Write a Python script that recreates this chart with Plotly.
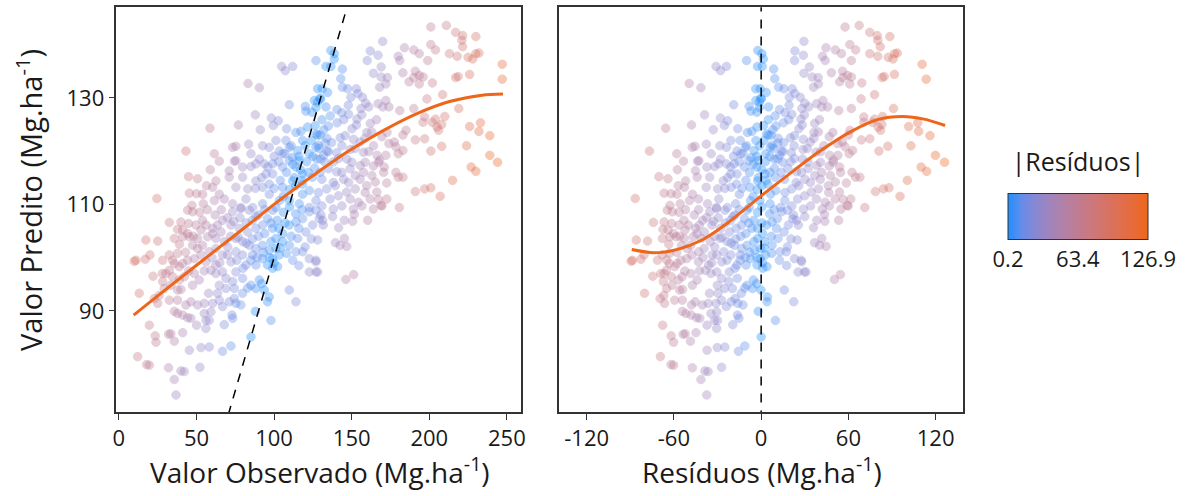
import numpy as np
import plotly.graph_objects as go

obs_1 = [127.0, 104.9, 107.2, 112.0, 83.2, 90.5, 109.8, 120.1, 124.4, 120.5,
         87.9, 98.2, 102.7, 99.5, 58.7, 77.0, 91.1, 108.1, 114.1, 117.3,
         43.2, 61.5, 64.7, 75.4, 83.6, 92.6, 96.9, 103.4, 109.8, 115.2,
         127.0, 122.7, 74.4, 79.7, 85.1, 90.5, 93.7, 44.9, 50.7, 58.9,
         24.5, 45.4, 54.0, 56.5, 60.4, 62.5, 64.7, 47.1, 54.4, 61.5,
         71.1, 75.4, 79.7, 81.9, 99.1, 105.5, 109.8, 114.1, 118.4, 124.8,
         88.3, 92.6, 96.9, 105.5, 109.8, 118.4, 127.0, 86.2, 73.3, 101.2,
         112.0, 101.2, 107.6, 118.4, 127.0, 121.6, 127.0, 128.0, 125.9, 71.1,
         67.9, 75.4, 85.1, 88.3, 94.8, 99.1, 105.5, 111.9, 116.2, 96.9,
         103.4, 92.6, 78.6, 83.0, 118.4, 122.7, 122.7, 116.2, 73.3]
pred_1 = [137.0, 135.9, 135.1, 135.9, 132.7, 131.9, 128.7, 128.4, 127.3, 127.5,
          126.8, 126.2, 125.7, 124.8, 124.3, 124.9, 124.0, 124.2, 123.5, 123.7,
          120.0, 119.5, 118.1, 120.9, 121.3, 121.0, 120.7, 120.0, 120.7, 120.1,
          120.7, 119.5, 118.1, 117.0, 117.1, 118.5, 117.6, 115.2, 114.8, 116.5,
          111.1, 112.1, 111.9, 113.5, 113.2, 114.4, 111.9, 109.8, 110.1, 110.7,
          115.1, 113.2, 115.1, 111.0, 115.7, 117.0, 118.2, 117.0, 115.7, 115.1,
          114.4, 113.2, 111.9, 113.2, 110.7, 111.9, 110.7, 109.4, 110.1, 109.4,
          114.4, 122.0, 122.0, 122.0, 123.2, 124.5, 128.2, 131.7, 129.5, 116.3,
          111.0, 118.2, 119.5, 117.6, 115.7, 117.6, 119.5, 118.8, 118.2, 113.8,
          110.7, 110.1, 109.4, 112.9, 113.8, 112.6, 109.4, 110.1, 120.7]

obs_2 = [32.5, 37.8, 35.7, 41.1, 44.3, 45.4, 17.4, 25.0, 9.9, 11.0,
         17.0, 13.1, 19.6, 23.4, 23.9, 12.1, 17.9, 19.6, 32.0, 33.5,
         35.7, 41.1, 45.4, 52.9, 58.2, 32.0, 40.0, 42.1, 35.7, 52.2,
         36.8, 66.8, 72.2, 67.9, 73.3, 72.9, 50.1, 56.1, 44.3, 46.4,
         41.1, 35.7, 37.8, 32.5, 37.8, 43.2, 46.4, 55.0, 59.3, 58.2,
         56.1, 50.7, 55.0, 57.8, 63.6, 60.4, 66.8, 64.7, 71.1, 75.4,
         78.6, 85.1, 87.9, 98.0, 88.3, 93.7, 95.8, 96.9, 90.5, 92.0,
         83.0, 85.1, 79.7, 74.4, 69.0, 74.4, 109.8, 114.1, 28.2, 29.2,
         26.0, 22.8, 25.0, 33.5, 37.8, 38.9, 34.6, 30.3, 32.5, 42.1,
         48.6, 51.8, 47.5, 35.7, 34.6, 37.8, 41.1, 44.3, 38.9, 28.2,
         32.5, 48.6, 50.7, 52.9, 56.1, 59.3, 62.5, 62.5, 66.8, 47.5,
         50.7, 53.9, 58.2, 62.5, 66.8, 70.1, 72.2, 56.1, 60.4, 63.6,
         65.8, 66.8, 57.2, 62.5, 60.4, 44.3, 47.5, 53.9, 52.9, 41.1,
         44.9, 49.7, 40.0, 73.3, 78.6, 84.0, 88.3, 72.2, 77.6, 83.0,
         88.3, 92.6, 95.8, 99.1, 75.4, 79.7, 84.0, 88.3, 92.6, 86.2,
         79.7, 75.4, 81.9, 88.3, 92.6, 95.8, 99.1, 75.4, 79.7, 73.3,
         69.0, 64.7, 99.1, 101.2, 105.5, 109.8, 114.1, 118.4, 122.7, 127.0,
         129.1, 124.8, 120.5, 115.2, 109.8, 114.1, 118.4, 122.7, 127.0, 101.2,
         99.1, 103.4, 96.9, 105.5, 102.3, 122.7, 127.0]
pred_2 = [106.6, 105.3, 103.6, 103.9, 104.5, 103.9, 103.3, 103.1, 99.3, 99.5,
          99.7, 93.3, 87.3, 85.3, 84.1, 81.4, 79.9, 79.8, 85.6, 85.7,
          84.3, 85.9, 82.6, 83.1, 83.2, 79.3, 78.7, 78.6, 77.1, 79.4,
          74.2, 82.4, 83.4, 87.4, 88.6, 89.2, 87.3, 88.2, 88.7, 88.6,
          89.2, 89.9, 89.5, 92.0, 92.0, 91.1, 91.7, 89.5, 89.8, 88.2,
          86.7, 91.1, 91.4, 93.3, 93.3, 91.4, 90.8, 92.0, 91.7, 91.4,
          91.1, 85.1, 89.9, 88.2, 94.2, 93.9, 91.7, 92.6, 95.8, 95.1,
          94.3, 94.8, 93.3, 92.3, 94.2, 94.2, 93.9, 91.7, 95.5, 94.2,
          92.9, 92.3, 91.4, 94.8, 93.9, 95.8, 96.4, 97.0, 97.6, 96.4,
          97.0, 95.8, 94.8, 98.9, 99.5, 100.8, 98.9, 99.5, 98.3, 99.5,
          100.5, 99.8, 101.7, 100.5, 99.2, 97.6, 98.6, 97.0, 97.3, 102.3,
          103.6, 102.3, 101.1, 101.7, 100.5, 102.0, 99.2, 106.1, 105.5, 106.1,
          104.8, 107.0, 103.9, 103.6, 104.5, 108.9, 108.6, 107.0, 105.2, 105.2,
          106.4, 106.1, 106.7, 108.6, 109.2, 108.9, 107.7, 106.1, 105.5, 104.8,
          105.5, 106.1, 107.3, 108.9, 103.6, 103.0, 102.3, 101.7, 102.3, 100.5,
          100.5, 101.1, 98.6, 98.6, 99.8, 98.6, 98.0, 97.3, 96.1, 95.5,
          96.1, 94.8, 105.5, 103.6, 104.5, 106.1, 106.7, 107.3, 108.6, 108.9,
          107.3, 106.1, 104.8, 103.6, 102.3, 101.1, 101.1, 99.8, 99.2, 101.7,
          99.8, 100.5, 101.4, 103.0, 98.3, 97.3, 97.3]

obs_3 = [201, 211, 217, 221.5, 221, 221.5, 230, 170, 184, 190,
         193.5, 201, 204, 213, 218, 225, 228, 230, 232, 162,
         167, 160, 180, 181, 199, 247, 247, 217, 218.6, 226,
         191, 193.5, 196, 190, 187, 183, 202, 208.6, 198.5, 193.5,
         164, 169, 173, 168, 172, 169, 153, 154, 149.5, 147.4,
         144, 144, 143, 136.6, 138.8, 138.8, 133.4, 136.6, 131, 134.5,
         130, 128, 133.4, 157, 159, 156, 161, 167, 172, 170,
         174, 181, 190, 197, 196, 204, 208, 206, 210, 202,
         205, 219, 226, 233, 232, 239, 244, 239, 227, 230,
         224, 215, 201, 208, 191, 197, 185, 183, 178.5, 177.5,
         174, 183, 180, 172, 168, 171, 178.5, 183, 180, 191,
         197, 201, 207]
pred_3 = [143.3, 143.6, 142.3, 141.7, 140.8, 139.6, 141.5, 140.6, 139.4, 139,
          138.3, 140, 139, 138.3, 137.8, 137.6, 137.3, 138.3, 138.4, 138.8,
          138, 137, 137.8, 137, 137, 136.3, 133.5, 133.8, 134, 134.4,
          135, 134.2, 133.9, 133.8, 133, 134.7, 132.8, 130.6, 129.8, 132.6,
          134.6, 133.9, 133.8, 132, 132.6, 135.8, 131.7, 130.8, 130.1, 131.7,
          132, 135.4, 133.6, 138.9, 138.3, 137.3, 135.9, 135.9, 131.7, 131,
          129.8, 129.2, 128.3, 130.1, 129, 128, 128.3, 128.9, 129.5, 128.3,
          128.3, 127.6, 128, 126.4, 125.4, 126, 125, 123.9, 126.5, 125.4,
          124.5, 128, 124.6, 125.3, 123.7, 122.9, 117.9, 119.2, 117, 116.2,
          121, 114.5, 120, 120.9, 122.1, 122.3, 123.9, 123, 120.8, 121.7,
          121.4, 120.1, 119.5, 119.2, 118.3, 117, 116, 115.1, 115.1, 112.4,
          112.9, 113.1, 111.5]

obs_4 = [129.5, 147.8, 140.5, 143.6, 136.2, 130.8, 126.4, 129.8, 134.9, 140.6,
         144.9, 148.0, 153.4, 156.5, 162.0, 166.0, 150.2, 153.1, 159.8, 162.9,
         128.6, 134.0, 137.1, 142.6, 145.8, 151.2, 155.5, 158.6, 164.1, 169.5,
         172.8, 131.9, 135.0, 140.4, 143.7, 149.1, 152.2, 157.6, 160.9, 166.3,
         127.6, 132.8, 138.3, 141.5, 146.9, 150.1, 155.5, 158.7, 164.0, 167.3,
         129.7, 135.1, 140.4, 143.7, 149.0, 152.3, 157.6, 163.0, 170.6, 130.8,
         138.2, 144.8, 148.0, 155.4, 159.7, 165.2, 172.6, 133.9, 139.4, 146.8,
         152.3, 158.7, 166.2, 128.6, 136.1, 141.5, 149.0, 154.4, 161.9, 167.3,
         172.6, 130.8, 138.2, 143.7, 151.1, 156.6, 164.0, 169.5, 180.7]
pred_4 = [129.9, 128.6, 127.8, 127.2, 126.6, 125.9, 124.8, 123.0, 124.7, 125.3,
          125.9, 126.9, 126.0, 126.8, 125.2, 125.9, 124.2, 124.9, 123.5, 123.6,
          121.1, 122.4, 121.6, 122.5, 122.9, 122.2, 121.7, 122.4, 121.0, 122.7,
          123.5, 119.2, 119.9, 119.7, 121.0, 120.3, 120.5, 119.8, 119.9, 119.2,
          118.5, 117.9, 118.0, 118.6, 118.5, 117.9, 117.3, 117.9, 117.2, 117.9,
          116.0, 116.7, 116.1, 116.0, 116.7, 115.4, 116.0, 115.4, 116.0, 114.7,
          114.1, 114.7, 114.1, 114.7, 113.5, 114.2, 114.0, 112.9, 113.5, 112.3,
          112.9, 112.2, 112.3, 112.2, 111.0, 111.6, 111.0, 110.4, 111.0, 110.9,
          111.0, 109.7, 109.1, 109.7, 109.1, 109.7, 109.1, 109.7, 109.4]

obs_5 = [168.9, 130.2, 131.3, 131.7, 137.7, 145.3, 150.6, 151.7, 160.3, 141.6,
         128.1, 145.3, 139.5, 142.5, 146.8, 127.0, 128.1, 146.3, 151.3,
         62, 66, 70, 74, 78, 82, 86, 90, 94, 98, 102, 106, 110, 114, 118,
         68, 72, 77, 82, 86, 90, 94, 98, 103, 107, 111, 116,
         60, 65, 70, 76, 80, 85, 89, 93, 97, 100, 104, 108, 112, 116, 120, 124,
         100, 104, 108, 112, 116, 120, 124, 128, 132, 113, 117, 121, 125, 129, 133,
         106, 110, 114, 118, 122, 126, 130, 134, 103, 107, 111, 96, 100, 92, 88,
         50, 52, 57, 48, 43, 39, 55, 45, 40, 28, 20, 22]
pred_5 = [109.8, 108.0, 107.0, 106.1, 107.7, 107.0, 106.8, 108.1, 107.0, 105.6,
          103.3, 103.6, 102.8, 102.3, 102.1, 99.5, 97.3, 95.9, 96.8,
          108, 109, 107.5, 106.8, 107.5, 106.5, 107, 108, 109, 106.5, 107, 108.5, 109.5, 108.2, 109,
          103, 104, 103.8, 102.7, 103.5, 104, 104.5, 103, 105.5, 106.5, 104, 105.5,
          100, 99, 100.5, 99.5, 98, 99.5, 100, 101, 100, 99, 101.8, 100.8, 99.5, 98.5, 102, 103.5,
          113, 114.5, 116, 117.5, 119, 121, 122, 123, 124, 115, 116.5, 118, 119, 120.5, 121.5,
          111.5, 112.8, 113.5, 114.5, 116, 116.8, 118.5, 120, 118, 119.5, 121, 117, 119, 115, 113,
          112, 108.5, 109, 104, 101, 102.5, 97.5, 97.5, 94, 97, 100.5, 96.5]

# loess curves
curva_obs = [9.5, 25, 41, 62, 84, 100, 116, 127, 148, 170, 191, 213, 234, 247.5]
curva_obs_pred = [89.2, 92.8, 96.5, 101.3, 106.3, 110.0, 113.5, 115.8, 120.0, 123.8, 126.9, 129.3, 130.5, 130.7]
curva_res = [-89, -74, -58, -40, -24, -12, 0, 18, 40, 62, 80, 97, 112, 126.5]
curva_res_pred = [101.5, 100.9, 101.5, 103.4, 106.3, 108.9, 111.6, 115.4, 119.9, 123.7, 125.9, 126.5, 126.0, 124.8]

res_ticks = [0.2, 63.4, 126.9]
obs_ticks = [0, 50, 100, 150, 200, 250]
res_axis_ticks = [-120, -60, 0, 60, 120]
pred_ticks = [90, 110, 130]

observado = np.array(obs_1 + obs_2 + obs_3 + obs_4 + obs_5)
predito = np.array(pred_1 + pred_2 + pred_3 + pred_4 + pred_5)
residuo = observado - predito
abs_res = np.abs(residuo)


# colour gradient interpolated in Lab, like ggplot's scale_colour_gradient
def hex_lab(h):
    rgb = np.array([int(h[i:i + 2], 16) for i in (1, 3, 5)]) / 255
    lin = np.where(rgb > 0.04045, ((rgb + 0.055) / 1.055) ** 2.4, rgb / 12.92)
    M = np.array([[0.4124, 0.3576, 0.1805], [0.2126, 0.7152, 0.0722], [0.0193, 0.1192, 0.9505]])
    xyz = M @ lin / np.array([0.95047, 1.0, 1.08883])
    f = np.where(xyz > 0.008856, np.cbrt(xyz), 7.787 * xyz + 16 / 116)
    return np.array([116 * f[1] - 16, 500 * (f[0] - f[1]), 200 * (f[1] - f[2])])


def lab_rgb(lab):
    fy = (lab[0] + 16) / 116
    f = np.array([fy + lab[1] / 500, fy, fy - lab[2] / 200])
    xyz = np.where(f ** 3 > 0.008856, f ** 3, (f - 16 / 116) / 7.787) * np.array([0.95047, 1.0, 1.08883])
    Minv = np.array([[3.2406, -1.5372, -0.4986], [-0.9689, 1.8758, 0.0415], [0.0557, -0.2040, 1.0570]])
    lin = np.clip(Minv @ xyz, 0, 1)
    rgb = np.where(lin > 0.0031308, 1.055 * lin ** (1 / 2.4) - 0.055, 12.92 * lin)
    return 'rgb(%d,%d,%d)' % tuple(np.round(rgb * 255))


low, high = '#1E90FF', '#EE661A'
lab_lo, lab_hi = hex_lab(low), hex_lab(high)
escala = [[t, lab_rgb(lab_lo + (lab_hi - lab_lo) * t)] for t in np.linspace(0, 1, 11)]

fonte = 'Open Sans'
cor_txt = '#1a1a1a'
tick_font = dict(family=fonte, size=22, color=cor_txt)

marker = dict(size=8.5, color=abs_res, colorscale=escala, cmin=res_ticks[0], cmax=res_ticks[-1],
              opacity=0.36,
              line=dict(width=1, color=abs_res, colorscale=escala, cmin=res_ticks[0], cmax=res_ticks[-1]))

fig = go.Figure()

marker_cb = dict(marker)
marker_cb['showscale'] = True
marker_cb['colorbar'] = dict(
    orientation='h', x=1078 / 1191, xanchor='center', y=(496 - 215) / 496, yanchor='middle',
    len=160, lenmode='pixels', thickness=46, thicknessmode='pixels',
    outlinecolor='#333333', outlinewidth=1,
    title=dict(text='|Resíduos|', side='top', font=dict(family=fonte, size=25, color=cor_txt)),
    tickvals=res_ticks, ticktext=[str(v) for v in res_ticks], ticks='',
    tickfont=dict(family=fonte, size=22, color=cor_txt))

fig.add_trace(go.Scatter(x=observado, y=predito, mode='markers', marker=marker_cb,
                         xaxis='x', yaxis='y', hoverinfo='skip'))
fig.add_trace(go.Scatter(x=[0, 260], y=[0, 260], mode='lines',
                         line=dict(color='black', width=1.5, dash='9px,8px'), xaxis='x', yaxis='y'))
fig.add_trace(go.Scatter(x=curva_obs, y=curva_obs_pred, mode='lines',
                         line=dict(color=high, width=3, shape='spline', smoothing=0.8),
                         xaxis='x', yaxis='y'))

fig.add_trace(go.Scatter(x=residuo, y=predito, mode='markers', marker=marker,
                         xaxis='x2', yaxis='y2', hoverinfo='skip'))
fig.add_trace(go.Scatter(x=[0, 0], y=[60, 160], mode='lines',
                         line=dict(color='black', width=1.5, dash='9px,8px'), xaxis='x2', yaxis='y2'))
fig.add_trace(go.Scatter(x=curva_res, y=curva_res_pred, mode='lines',
                         line=dict(color=high, width=3, shape='spline', smoothing=0.8),
                         xaxis='x2', yaxis='y2'))

eixo = dict(showgrid=False, zeroline=False, showline=True, mirror=True, linecolor='#333333',
            linewidth=1.5, ticks='outside', ticklen=6, tickwidth=1.3, tickcolor='#333333',
            tickfont=tick_font)

titulo_font = dict(family=fonte, size=28, color=cor_txt)

fig.update_layout(
    width=1191, height=496, showlegend=False,
    margin=dict(l=0, r=0, t=0, b=0, autoexpand=False),
    plot_bgcolor='white', paper_bgcolor='white',
    xaxis=dict(eixo, domain=[116.4 / 1191, 521 / 1191], range=[-1.6, 259.1],
               tickvals=obs_ticks, anchor='y'),
    yaxis=dict(eixo, domain=[84 / 496, 488.7 / 496], range=[71, 147], tickvals=pred_ticks,
               anchor='x'),
    xaxis2=dict(eixo, domain=[559 / 1191, 963.3 / 1191], range=[-139, 139],
                tickvals=res_axis_ticks, ticktext=[str(v) for v in res_axis_ticks], anchor='y2'),
    yaxis2=dict(eixo, domain=[84 / 496, 488.7 / 496], range=[71, 147], showticklabels=False,
                ticks='', anchor='x2'),
    annotations=[
        dict(text='Valor Observado (Mg.ha<sup>-1</sup>)', x=319.5 / 1191, y=(496 - 470) / 496,
             xref='paper', yref='paper', showarrow=False, xanchor='center', yanchor='middle',
             font=titulo_font),
        dict(text='Resíduos (Mg.ha<sup>-1</sup>)', x=761.5 / 1191, y=(496 - 470) / 496,
             xref='paper', yref='paper', showarrow=False, xanchor='center', yanchor='middle',
             font=titulo_font),
        dict(text='Valor Predito (Mg.ha<sup>-1</sup>)', x=29 / 1191, y=(496 - 200) / 496,
             xref='paper', yref='paper', showarrow=False, textangle=-90,
             xanchor='center', yanchor='middle', font=dict(titulo_font, size=29)),
    ],
)

# the page's default body margin would push the figure 8px down and right
fig.write_html("out.html", config={'displayModeBar': False},
               post_script="document.body.style.margin='0';")
